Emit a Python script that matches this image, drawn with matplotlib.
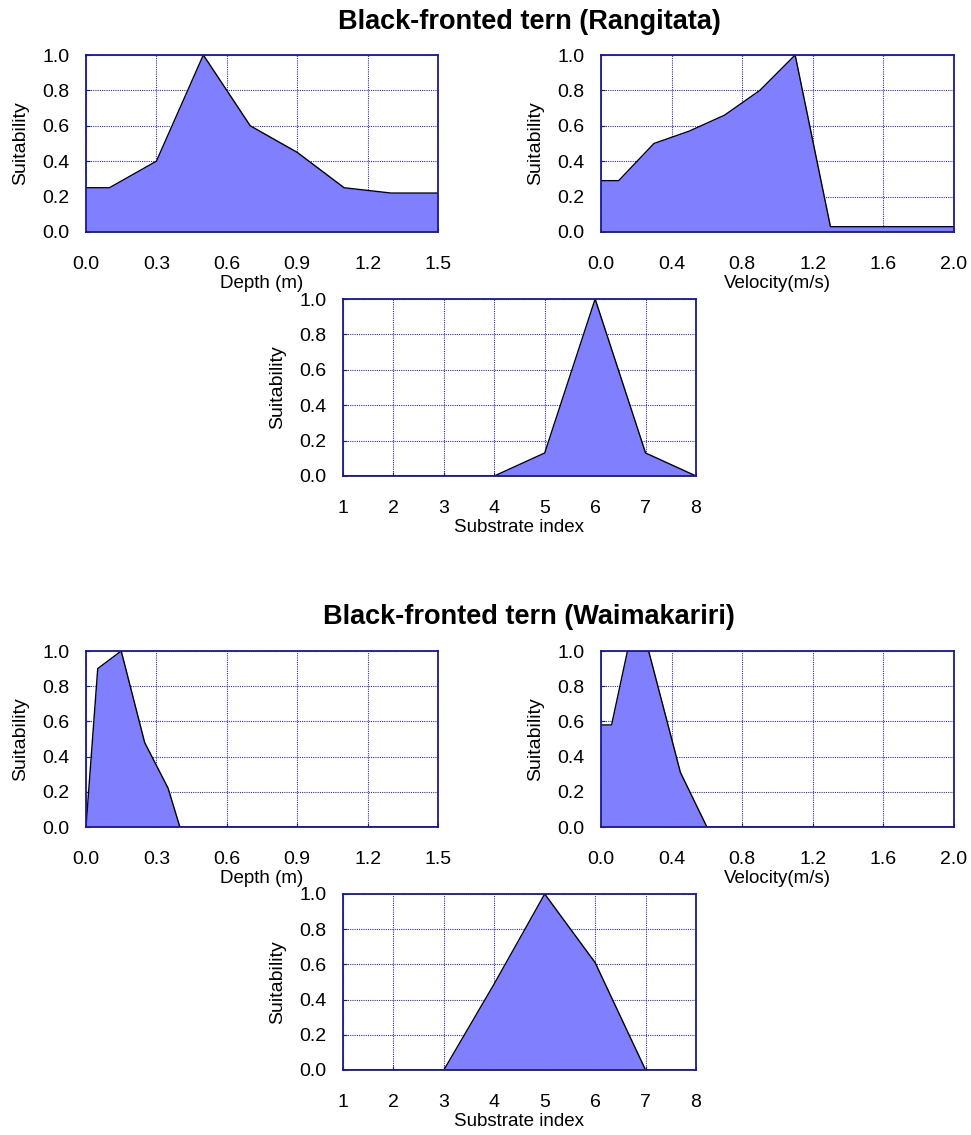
import matplotlib
matplotlib.use("Agg")
import matplotlib.pyplot as plt

plt.rcParams['font.family'] = ['Liberation Sans', 'DejaVu Sans']

# Rangitata curves
rang_depth_x = [0.0, 0.1, 0.3, 0.5, 0.7, 0.9, 1.1, 1.3, 1.5]
rang_depth_y = [0.25, 0.25, 0.40, 1.0, 0.60, 0.45, 0.25, 0.22, 0.22]
rang_vel_x = [0.0, 0.1, 0.3, 0.5, 0.7, 0.9, 1.1, 1.3, 2.0]
rang_vel_y = [0.29, 0.29, 0.50, 0.57, 0.66, 0.80, 1.0, 0.03, 0.03]
rang_sub_x = [1, 2, 3, 4, 5, 6, 7, 8]
rang_sub_y = [0, 0, 0, 0, 0.13, 1.0, 0.13, 0]

# Waimakariri curves
waim_depth_x = [0.0, 0.05, 0.15, 0.25, 0.35, 0.4, 1.5]
waim_depth_y = [0.0, 0.90, 1.0, 0.48, 0.22, 0.0, 0.0]
waim_vel_x = [0.0, 0.06, 0.15, 0.27, 0.45, 0.6, 2.0]
waim_vel_y = [0.58, 0.58, 1.0, 1.0, 0.31, 0.0, 0.0]
waim_sub_x = [1, 2, 3, 4, 5, 6, 7, 8]
waim_sub_y = [0, 0, 0, 0.49, 1.0, 0.61, 0, 0]

depth_ticks = [0.0, 0.3, 0.6, 0.9, 1.2, 1.5]
vel_ticks = [0.0, 0.4, 0.8, 1.2, 1.6, 2.0]
sub_ticks = [1, 2, 3, 4, 5, 6, 7, 8]
suit_ticks = [0.0, 0.2, 0.4, 0.6, 0.8, 1.0]

titles = ["Black-fronted tern (Rangitata)", "Black-fronted tern (Waimakariri)"]

fill_col = '#8080ff'
navy = '#1a1a8c'

fig = plt.figure(figsize=(9.71, 11.35), dpi=100)


def panel(rect, x, y, xticks, fmt, xlabel):
    ax = fig.add_axes(rect)
    ax.fill_between(x, y, 0, color=fill_col, linewidth=0, zorder=2)
    ax.plot(x, y, color='black', linewidth=1.0, zorder=3)
    ax.set_xlim(xticks[0], xticks[-1])
    ax.set_ylim(0, 1.0)
    ax.set_xticks(xticks)
    ax.set_xticklabels([fmt.format(v) for v in xticks])
    ax.set_yticks(suit_ticks)
    ax.set_yticklabels(["{:.1f}".format(v) for v in suit_ticks])
    ax.grid(True, color='#3030a8', linestyle=(0, (1, 1)), linewidth=0.8, zorder=1)
    ax.set_axisbelow(True)
    for s in ax.spines.values():
        s.set_color(navy)
        s.set_linewidth(1.3)
        s.set_zorder(4)
    ax.tick_params(direction='in', length=3, color=navy, labelsize=14)
    ax.tick_params(axis='y', pad=12)
    ax.tick_params(axis='x', pad=17)
    ax.set_ylabel("Suitability", fontsize=14, labelpad=9)
    ax.set_xlabel(xlabel, fontsize=13.5, labelpad=2)
    return ax


W = 971.0
H = 1135.0


def r(l, t, rgt, b):
    return [l / W, 1 - b / H, (rgt - l) / W, (b - t) / H]


# top block
panel(r(86, 55, 438, 232), rang_depth_x, rang_depth_y, depth_ticks, "{:.1f}", "Depth (m)")
panel(r(601, 55, 954, 232), rang_vel_x, rang_vel_y, vel_ticks, "{:.1f}", "Velocity(m/s)")
panel(r(343, 299, 696, 476), rang_sub_x, rang_sub_y, sub_ticks, "{:d}", "Substrate index")
fig.text(529 / W, 1 - 22 / H, titles[0], ha='center', va='center',
         fontsize=19.5, fontweight='bold')

# bottom block
panel(r(86, 651, 438, 827), waim_depth_x, waim_depth_y, depth_ticks, "{:.1f}", "Depth (m)")
panel(r(601, 651, 954, 827), waim_vel_x, waim_vel_y, vel_ticks, "{:.1f}", "Velocity(m/s)")
panel(r(343, 894, 696, 1070), waim_sub_x, waim_sub_y, sub_ticks, "{:d}", "Substrate index")
fig.text(529 / W, 1 - 617 / H, titles[1], ha='center', va='center',
         fontsize=19.5, fontweight='bold')

fig.savefig("out.png", dpi=100)
